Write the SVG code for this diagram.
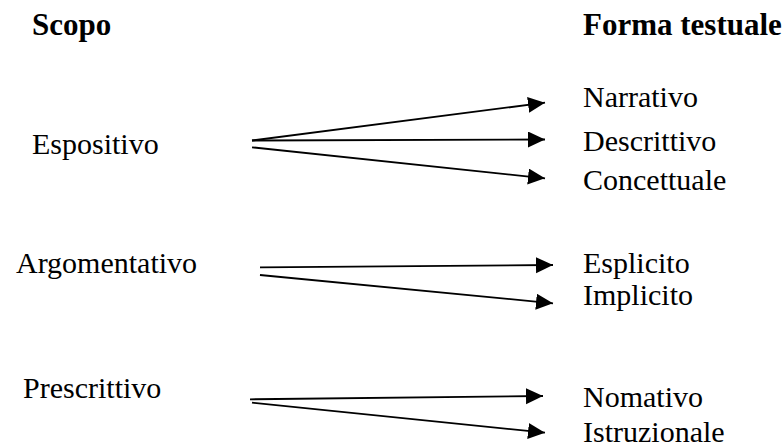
<svg xmlns="http://www.w3.org/2000/svg" width="784" height="448" viewBox="0 0 784 448">
<style>
text{font-family:"Liberation Serif","Times New Roman",serif;font-size:30px;fill:#000}
.h{font-weight:bold;font-size:31px}
.c line{stroke:#000;stroke-width:1.8;fill:none}
</style>
<defs>
<marker id="ah" markerUnits="userSpaceOnUse" markerWidth="18" markerHeight="17" refX="17" refY="8" orient="auto" viewBox="0 0 18 17">
<path d="M0,0 L17,8 L0,16 Z" fill="#000"/>
</marker>
</defs>
<rect width="784" height="448" fill="#fff"/>
<g id="hdr-scopo"><text class="h" x="32" y="35">Scopo</text></g>
<g id="hdr-forma"><text class="h" x="583" y="35">Forma testuale</text></g>
<g id="espositivo"><text x="32" y="154">Espositivo</text></g>
<g id="argomentativo"><text x="16" y="273">Argomentativo</text></g>
<g id="prescrittivo"><text x="23" y="398">Prescrittivo</text></g>
<g id="narrativo"><text x="583" y="107">Narrativo</text></g>
<g id="descrittivo"><text x="583" y="151">Descrittivo</text></g>
<g id="concettuale"><text x="583" y="190">Concettuale</text></g>
<g id="esplicito"><text x="583" y="273">Esplicito</text></g>
<g id="implicito"><text x="583" y="305">Implicito</text></g>
<g id="nomativo"><text x="583" y="407">Nomativo</text></g>
<g id="istruzionale"><text x="583" y="442">Istruzionale</text></g>
<g id="connectors" class="c">
<line x1="252" y1="140.5" x2="545" y2="102.7" marker-end="url(#ah)"/>
<line x1="252" y1="140.5" x2="545" y2="139.5" marker-end="url(#ah)"/>
<line x1="252" y1="147.3" x2="545" y2="178.3" marker-end="url(#ah)"/>
<line x1="260" y1="267.3" x2="553" y2="265" marker-end="url(#ah)"/>
<line x1="260" y1="275" x2="553" y2="303.3" marker-end="url(#ah)"/>
<line x1="250" y1="399.3" x2="543" y2="396" marker-end="url(#ah)"/>
<line x1="252" y1="402.7" x2="545" y2="432.7" marker-end="url(#ah)"/>
</g>
</svg>
